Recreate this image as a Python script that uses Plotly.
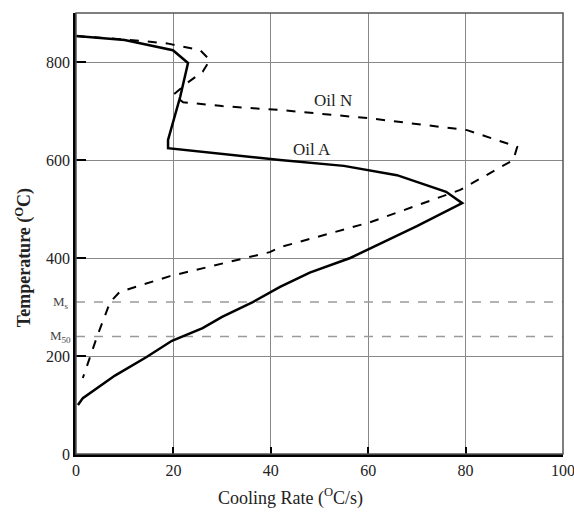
import plotly.graph_objects as go

# Oil A (solid) : cooling rate (C/s), temperature (C)
oilA_rate = [0, 10, 19.9, 23, 21.4, 18.9, 18.9, 30, 41.9, 55, 65.9, 76, 79.3, 70, 60.4, 56.3, 48, 41.9, 36.3, 30, 26, 24, 19.7, 14.5, 8, 1.4, 0.4]
oilA_temp = [853, 845, 824, 798, 729, 641, 624, 612, 600, 588, 569, 535, 512, 465, 420, 400, 370, 341, 310, 280, 257, 249, 231, 198, 160, 114, 100]

# Oil N (dashed)
oilN_rate = [0, 10, 18.7, 25.5, 27.5, 26, 22.8, 20, 22, 30, 41.9, 60.4, 80.3, 90.6, 89.8, 78.9, 60.4, 41.9, 39.8, 28.9, 19.3, 9, 7, 4.3, 1.4]
oilN_temp = [853, 846, 838, 824, 804, 780, 757, 733, 718, 710, 702, 685, 661, 627, 600, 539, 473, 422, 412, 386, 363, 331, 310, 239, 155]

# Martensite reference temperatures
ms_temp = 310
m50_temp = 240

x_ticks = [0, 20, 40, 60, 80, 100]
y_ticks = [0, 200, 400, 600, 800]

serif = "Liberation Serif"

fig = go.Figure()
for t in [ms_temp, m50_temp]:
    fig.add_trace(go.Scatter(x=[0, 100], y=[t, t], mode="lines",
                             line=dict(color="#9a9a9a", width=1.5, dash="dash"),
                             showlegend=False, hoverinfo="skip"))
fig.add_trace(go.Scatter(x=oilN_rate, y=oilN_temp, mode="lines",
                         line=dict(color="black", width=2, dash="dash"), showlegend=False))
fig.add_trace(go.Scatter(x=oilA_rate, y=oilA_temp, mode="lines",
                         line=dict(color="black", width=2.5), showlegend=False))

fig.add_annotation(x=52.8, y=722, text="Oil N", showarrow=False,
                   font=dict(family=serif, size=17, color="#222"))
fig.add_annotation(x=48.5, y=622, text="Oil A", showarrow=False,
                   font=dict(family=serif, size=17, color="#222"))
fig.add_annotation(x=0, y=ms_temp, xref="paper", text="M<sub>s</sub>", showarrow=False,
                   xanchor="right", xshift=-5, font=dict(family=serif, size=13, color="#444"))
fig.add_annotation(x=0, y=m50_temp, xref="paper", text="M<sub>50</sub>", showarrow=False,
                   xanchor="right", xshift=-3, font=dict(family=serif, size=13, color="#444"))

# axis titles
fig.add_annotation(x=0.441, y=0, xref="paper", yref="paper", yanchor="middle", xanchor="center",
                   yshift=-43, text="Cooling Rate (<sup>O</sup>C/s)",
                   showarrow=False, font=dict(family=serif, size=18, color="#222"))
fig.add_annotation(x=0, y=0.444, xref="paper", yref="paper", xanchor="center", yanchor="middle",
                   xshift=-52, textangle=-90,
                   text="<b>Temperature (<sup>O</sup>C)</b>",
                   showarrow=False, font=dict(family=serif, size=18, color="#222"))

fig.update_layout(
    width=574, height=512,
    margin=dict(l=76, r=11, t=13, b=58, autoexpand=False),
    plot_bgcolor="white", paper_bgcolor="white",
    font=dict(family=serif, size=16, color="#222"),
    xaxis=dict(range=[0, 100], tickvals=x_ticks, showgrid=True, gridcolor="#888", gridwidth=1,
               zeroline=False, showline=True, linecolor="black", linewidth=2.5, mirror=False,
               ticks="inside", ticklen=7, tickwidth=2, tickcolor="black",
               ticklabeloverflow="allow", automargin=False),
    yaxis=dict(range=[0, 900], tickvals=y_ticks, showgrid=True, gridcolor="#888", gridwidth=1,
               zeroline=False, showline=True, linecolor="black", linewidth=2.5,
               ticks="inside", ticklen=10, tickwidth=2, tickcolor="black", automargin=False),
)
# top & right border
fig.add_shape(type="rect", xref="paper", yref="paper", x0=0, y0=0, x1=1, y1=1,
              line=dict(color="#555", width=1.5), layer="above")

fig.write_html("out.html")
